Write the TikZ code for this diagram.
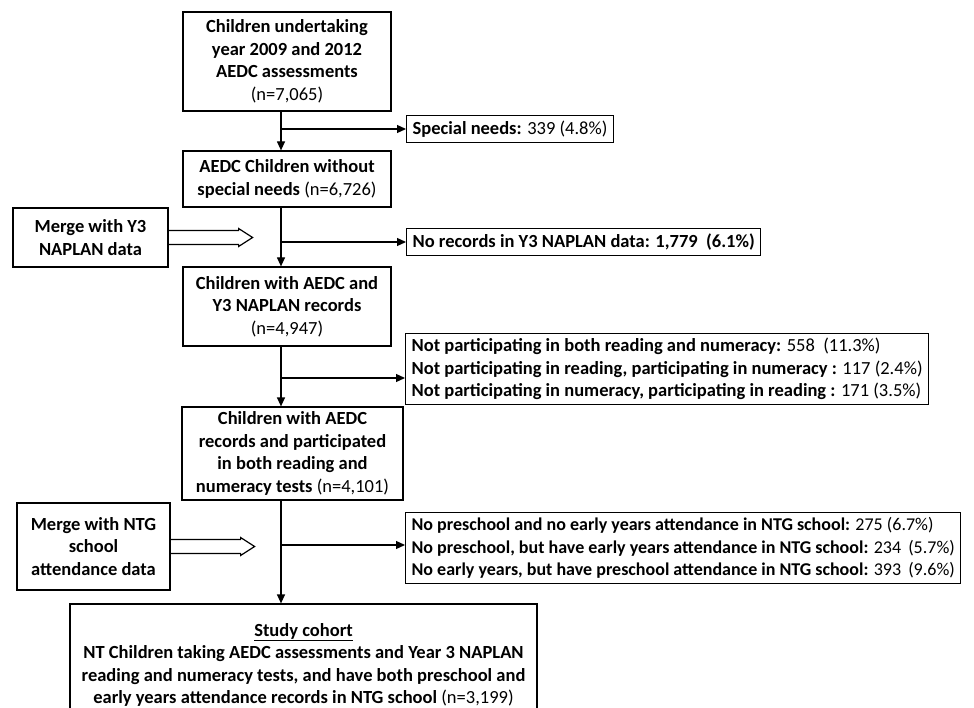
\documentclass[tikz,border=0pt]{standalone}
\usepackage{fontspec}
\setmainfont{Carlito}
\usetikzlibrary{arrows.meta}

\begin{document}
\begin{tikzpicture}[x=1pt, y=-1pt, line width=1.2pt,
	font=\fontsize{18.5}{22.5}\selectfont\bfseries,
	box/.style={draw, align=center, inner sep=2pt},
	note/.style={draw, align=left, anchor=west, inner xsep=6pt, inner ysep=5pt},
	flow/.style={-{Triangle[length=9pt,width=8pt]}}]
	\useasboundingbox (0,0) rectangle (974,708);
	\clip (0,0) rectangle (974,708);
	% main column
	\node[box, minimum width=208, minimum height=99] (start) at (287,61.5) {Children undertaking\\year 2009 and 2012\\AEDC assessments\\{\mdseries(n=7,065)}};
	\node[box, minimum width=208, minimum height=56] (noneeds) at (287,179) {AEDC Children without\\special needs {\mdseries(n=6,726)}};
	\node[box, minimum width=208, minimum height=79] (naplan) at (287,306.5) {Children with AEDC and\\Y3 NAPLAN records\\{\mdseries(n=4,947)}};
	\node[box, minimum width=221, minimum height=93] (tests) at (292.5,453.5) {Children with AEDC\\records and participated\\in both reading and\\numeracy tests {\mdseries(n=4,101)}};
	\node[box, minimum width=467, minimum height=122] (cohort) at (303.5,665) {\underline{Study cohort}\\NT Children taking AEDC assessments and Year 3 NAPLAN\\reading and numeracy tests, and have both preschool and\\early years attendance records in NTG school {\mdseries(n=3,199)}};
	% exclusions
	\node[note] (special) at (406,129) {Special needs: {\mdseries339 (4.8\%)}};
	\node[note] (norec) at (406,242) {No records in Y3 NAPLAN data: 1,779 \ (6.1\%)};
	\node[note] (notpart) at (405,369) {Not participating in both reading and numeracy: {\mdseries558 \ (11.3\%)}\\
		Not participating in reading, participating in numeracy : {\mdseries117 (2.4\%)}\\
		Not participating in numeracy, participating in reading : {\mdseries171 (3.5\%)}};
	\node[note, font=\fontsize{18}{22.5}\selectfont\bfseries] (nopre) at (405,548) {No preschool and no early years attendance in NTG school: {\mdseries275 (6.7\%)}\\
		No preschool, but have early years attendance in NTG school: {\mdseries234\, (5.7\%)}\\
		No early years, but have preschool attendance in NTG school: {\mdseries393\, (9.6\%)}};
	% merges
	\node[box, minimum width=155, minimum height=59] (merge1) at (90.5,237.5) {Merge with Y3\\NAPLAN data};
	\node[box, minimum width=153, minimum height=87] (merge2) at (93.5,546.5) {Merge with NTG\\school\\attendance data};
	\foreach \m in {merge1,merge2}
		\draw (\m.east) +(0,-7) -- +(70,-7) -- +(70,-9) -- +(84,0) -- +(70,9) -- +(70,7) -- +(0,7);
	% connectors
	\coordinate (spine) at (281,0);
	\coordinate (b1) at (281,129);
	\coordinate (b2) at (281,242);
	\coordinate (b3) at (281,378);
	\coordinate (b4) at (281,545);
	\draw[flow] (start.south -| spine) -- (noneeds.north -| spine);
	\draw[flow] (noneeds.south -| spine) -- (naplan.north -| spine);
	\draw[flow] (naplan.south -| spine) -- (tests.north -| spine);
	\draw[flow] (tests.south -| spine) -- (cohort.north -| spine);
	\draw[flow] (b1) -- (special.west |- b1);
	\draw[flow] (b2) -- (norec.west |- b2);
	\draw[flow] (b3) -- (notpart.west |- b3);
	\draw[flow] (b4) -- (nopre.west |- b4);
\end{tikzpicture}
\end{document}
